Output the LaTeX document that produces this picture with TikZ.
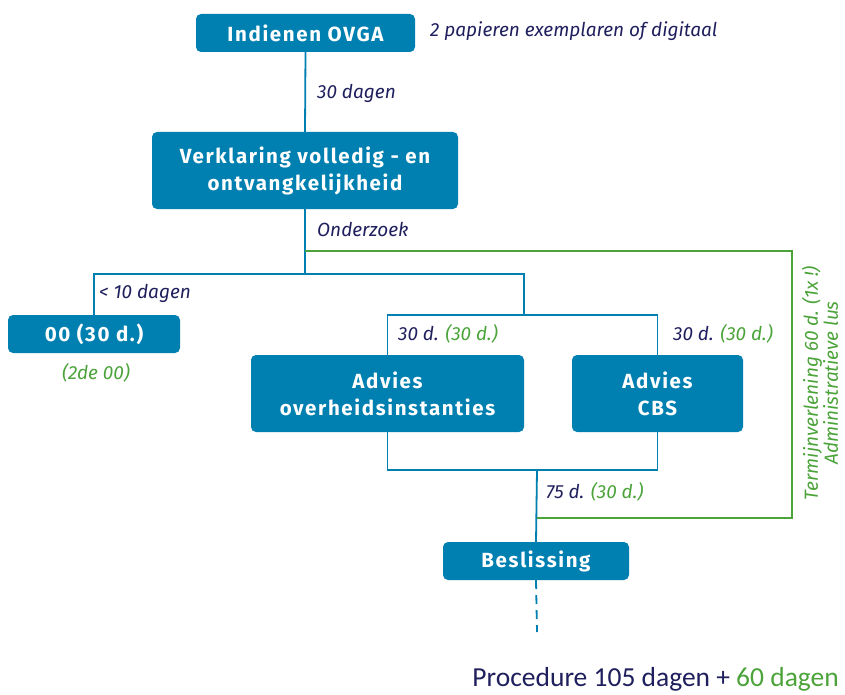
\documentclass[tikz,border=0pt]{standalone}
\usepackage{fontspec}
\setmainfont{Fira Sans}
\newfontfamily\boxfont[LetterSpace=8]{Fira Sans}
\newfontfamily\sumfont{Carlito}
\definecolor{boxblue}{HTML}{0080B0}
\definecolor{navy}{HTML}{1F1F5E}
\definecolor{loopgreen}{HTML}{4BA33A}
\begin{document}
\begin{tikzpicture}[x=1pt,y=-1pt,
  stepbox/.style={fill=boxblue, rounded corners=5pt, text=white, align=center,
    font=\boxfont\bfseries\fontsize{20.5}{27}\selectfont, inner sep=0pt},
  flow/.style={draw=boxblue, line width=1.8pt},
  loop/.style={draw=loopgreen, line width=1.8pt},
  note/.style={text=navy, font=\itshape\fontsize{19}{22}\selectfont, inner sep=0pt},
  gnote/.style={text=loopgreen, font=\itshape\fontsize{19}{20}\selectfont, inner sep=0pt}]
\useasboundingbox (0,0) rectangle (845,695);

% process steps
\node[stepbox, minimum width=219pt, minimum height=38pt] (ind) at (305.5,33) {Indienen OVGA};
\node[stepbox, minimum width=306pt, minimum height=77pt] (ver) at (305,170.5) {Verklaring volledig - en\\ontvangkelijkheid};
\node[stepbox, minimum width=172pt, minimum height=38pt] (oo) at (94,334) {00 (30 d.)};
\node[stepbox, minimum width=273pt, minimum height=77pt] (ov) at (387.5,393.5) {Advies\\overheidsinstanties};
\node[stepbox, minimum width=171pt, minimum height=77pt] (cbs) at (657.5,393.5) {Advies\\CBS};
\node[stepbox, minimum width=186pt, minimum height=38pt] (bes) at (536,561) {Beslissing};

% branch points
\coordinate (split) at (305,274);
\coordinate (adv) at (524,315);
\coordinate (join) at (537,470);
\coordinate (gstart) at (305,251);
\coordinate (gtop) at (792,251);
\coordinate (gbot) at (792,518);
\coordinate (gend) at (537,518);
\coordinate (tail) at (537,632);

% blue flow
\draw[flow] (ind.south) -- (ver.north);
\draw[flow] (ver.south) -- (split);
\draw[flow] (oo.north) |- (split) -| (adv);
\draw[flow] (ov.north) |- (adv) -| (cbs.north);
\draw[flow] (ov.south) |- (join) -| (cbs.south);
\draw[flow] (join) -- (bes.north);
\draw[flow, dash pattern=on 9pt off 6pt] (bes.south) -- (tail);

% administrative loop
\draw[loop] (gstart) -- (gtop) -- (gbot) -- (gend);

% annotations
\node[note, anchor=west] (n1) at (430,31) {2 papieren exemplaren of digitaal};
\node[note, anchor=west] (n2) at (317,93) {30 dagen};
\node[note, anchor=west] (n3) at (317,229) {Onderzoek};
\node[note, anchor=west] (n4) at (99,293) {< 10 dagen};
\node[gnote] (n5) at (96,373) {(2de 00)};
\node[note, anchor=west] (n6) at (398,334) {30 d. \textcolor{loopgreen}{(30 d.)}};
\node[note, anchor=west] (n7) at (673,334) {30 d. \textcolor{loopgreen}{(30 d.)}};
\node[note, anchor=west] (n8) at (546,492) {75 d. \textcolor{loopgreen}{(30 d.)}};
\node[gnote, rotate=90, align=center] (n9) at (820,383) {Termijnverlening 60 d. (1x !)\\Administratieve lus};
\node[anchor=base east, inner sep=0pt, text=navy, font=\sumfont\fontsize{27.5}{30}\selectfont] (sum) at (839,686) {Procedure 105 dagen + \textcolor{loopgreen}{60 dagen}};
\end{tikzpicture}
\end{document}
